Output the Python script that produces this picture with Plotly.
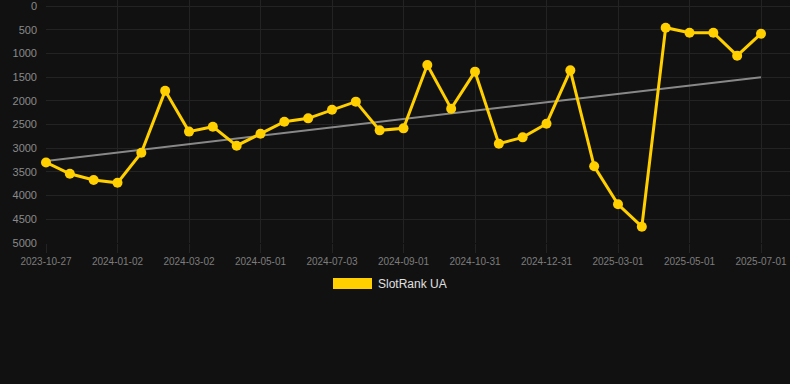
import numpy as np
import plotly.graph_objects as go

dates = [
    "2023-10-27", "2023-11-18", "2023-12-10", "2024-01-02", "2024-01-22", "2024-02-11",
    "2024-03-02", "2024-03-22", "2024-04-11", "2024-05-01", "2024-05-22", "2024-06-12",
    "2024-07-03", "2024-07-23", "2024-08-12", "2024-09-01", "2024-09-21", "2024-10-11",
    "2024-10-31", "2024-11-20", "2024-12-10", "2024-12-31", "2025-01-20", "2025-02-09",
    "2025-03-01", "2025-03-21", "2025-04-11", "2025-05-01", "2025-05-21", "2025-06-10",
    "2025-07-01",
]
rank = [
    3300, 3540, 3670, 3730, 3095, 1790, 2650, 2546, 2947, 2694, 2441, 2370,
    2187, 2018, 2623, 2581, 1245, 2166, 1385, 2905, 2771, 2483, 1357, 3382,
    4184, 4656, 457, 563, 563, 1048, 584,
]
tick_dates = [
    "2023-10-27", "2024-01-02", "2024-03-02", "2024-05-01", "2024-07-03", "2024-09-01",
    "2024-10-31", "2024-12-31", "2025-03-01", "2025-05-01", "2025-07-01",
]
series_name = "SlotRank UA"

idx = np.arange(len(rank))
slope, intercept = np.polyfit(idx, rank, 1)
trend = [intercept + slope * i for i in idx]

YELLOW = "#FFCF00"
BG = "#111111"
GRID = "#232323"
FONT = "Arial, Liberation Sans, sans-serif"

fig = go.Figure()
fig.add_trace(go.Scatter(
    x=dates, y=trend, mode="lines",
    line=dict(color="rgba(150,150,150,0.9)", width=2),
    hoverinfo="skip", showlegend=False,
))
fig.add_trace(go.Scatter(
    x=dates, y=rank, mode="lines+markers", name=series_name,
    line=dict(color=YELLOW, width=3),
    marker=dict(color=YELLOW, size=10),
    cliponaxis=False, showlegend=False,
))

W, H = 790, 384
L, R, T, B = 46, 0, 0, 141
pw, ph = W - L - R, H - T - B

def px_x(x):
    return (x - L) / pw

def px_y(y):
    return (H - B - y) / ph

fig.add_shape(type="rect", xref="paper", yref="paper",
              x0=px_x(333), x1=px_x(372), y0=px_y(289), y1=px_y(278),
              fillcolor=YELLOW, line=dict(width=0))
fig.add_annotation(xref="paper", yref="paper", x=px_x(376), y=px_y(284),
                   text=series_name, showarrow=False, xanchor="left", yanchor="middle",
                   font=dict(family=FONT, size=12, color="#e0e0e0"))

fig.update_layout(
    width=W, height=H,
    margin=dict(l=L, r=R, t=T, b=B),
    paper_bgcolor=BG, plot_bgcolor=BG,
    font=dict(family=FONT),
    showlegend=False,
    xaxis=dict(
        type="category",
        range=[0, (W - L - R) / ((761 - 46) / 30)],
        tickmode="array", tickvals=tick_dates, ticktext=tick_dates,
        showgrid=True, gridcolor=GRID, gridwidth=1,
        ticks="outside", ticklen=9, tickcolor=GRID,
        tickfont=dict(size=10, color="#7d7d7d"),
        ticklabeloverflow="allow",
        zeroline=False, showline=False,
    ),
    yaxis=dict(
        range=[5000, -127],
        tickmode="linear", tick0=0, dtick=500,
        showgrid=True, gridcolor=GRID, gridwidth=1,
        tickfont=dict(size=11, color="#8a8a8a"),
        ticklabelstandoff=8,
        ticklabeloverflow="allow",
        zeroline=False, showline=False,
    ),
)

fig.write_html(
    "out.html",
    config={"displayModeBar": False},
    post_script="document.body.style.margin='0';document.body.style.padding='0';"
                "document.body.style.overflow='hidden';document.body.style.background='#111111';",
)
